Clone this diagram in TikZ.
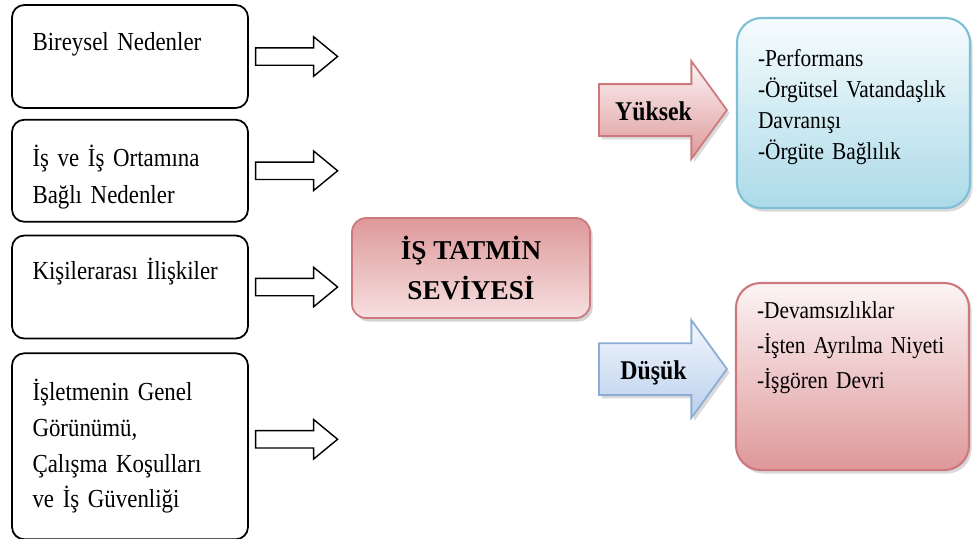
\documentclass[tikz,border=0pt]{standalone}
\usepackage{fontspec}
\setmainfont{Liberation Serif}[FakeStretch=0.88, WordSpace=0.8]
\newfontfamily\duzfont{Liberation Serif}
\usetikzlibrary{positioning,shapes.arrows,shadows}

\definecolor{pembeKenar}{RGB}{205,120,125}
\definecolor{pembeKoyu}{RGB}{222,152,154}
\definecolor{pembeAcik}{RGB}{246,224,224}
\definecolor{pembeBeyaz}{RGB}{252,244,244}
\definecolor{maviKenar}{RGB}{125,192,214}
\definecolor{maviKoyu}{RGB}{172,218,232}
\definecolor{maviBeyaz}{RGB}{246,252,254}
\definecolor{okMaviKenar}{RGB}{140,172,214}
\definecolor{okMaviKoyu}{RGB}{186,208,236}
\definecolor{okMaviAcik}{RGB}{242,247,253}

\begin{document}
\begin{tikzpicture}[
        font=\fontsize{14.8}{21.5}\selectfont,
        node distance=2mm,
        neden/.style={draw=black, rounded corners=7pt, line width=1pt, align=left, text width=3.9cm, inner xsep=0.41cm, minimum height=#1},
        bosok/.style={single arrow, draw=black, line width=0.8pt, minimum height=1.64cm, inner xsep=0pt, inner ysep=0.16cm, single arrow head extend=0.22cm, single arrow tip angle=79},
        tatmin/.style={draw=pembeKenar, rounded corners=8pt, line width=1pt, top color=pembeKoyu, bottom color=pembeAcik, align=center, minimum width=4.76cm, minimum height=2.0cm, font=\duzfont\bfseries\fontsize{15.5}{22.7}\selectfont, drop shadow={shadow xshift=1.5pt, shadow yshift=-2pt, opacity=0.35}},
        seviyeok/.style={single arrow, line width=1pt, minimum height=2.56cm, inner xsep=0.1cm, inner ysep=0pt, text height=0.7cm, text depth=0.3cm, single arrow head extend=0.46cm, single arrow tip angle=108, font=\bfseries\fontsize{15.4}{18}\selectfont, drop shadow={shadow xshift=1.5pt, shadow yshift=-2pt, opacity=0.3}},
        sonuc/.style={rounded corners=14pt, line width=1.2pt, align=left, text width=3.82cm, inner xsep=0.42cm, minimum height=#1, drop shadow={shadow xshift=1.5pt, shadow yshift=-2pt, opacity=0.3}}
    ]
        \useasboundingbox (0,0) rectangle (19.46,-10.76);

        % sol taraf: nedenler
        \node[neden=2.06cm] (b1) at (2.60,-1.13) {Bireysel Nedenler\rule[-0.61cm]{0pt}{0.61cm}};
        \node[neden=2.04cm, below=of b1] (b2) {\rule{0pt}{0.68cm}İş ve İş Ortamına\\Bağlı Nedenler};
        \node[neden=2.06cm, below=2.4mm of b2] (b3) {Kişilerarası İlişkiler\rule[-0.73cm]{0pt}{0.73cm}};
        \node[neden=3.72cm, below=2.6mm of b3, font=\fontsize{14.8}{20.3}\selectfont] (b4) {İşletmenin Genel\\Görünümü,\\Çalışma Koşulları\\ve İş Güvenliği};

        \node[bosok, right=1.2mm of b1] (o1) {};
        \node[bosok, right=1.2mm of b2] (o2) {};
        \node[bosok, right=1.2mm of b3] (o3) {};
        \node[bosok, right=1.2mm of b4, yshift=0.14cm] (o4) {};

        % orta
        \node[tatmin] (tatmin) at (9.42,-5.36) {İŞ TATMİN\\SEVİYESİ};

        % sag taraf: sonuclar
        \node[seviyeok, draw=pembeKenar, top color=pembeBeyaz, bottom color=pembeKoyu, anchor=tail] (yuksek) at (11.96,-2.20) {Yüksek};
        \node[seviyeok, draw=okMaviKenar, top color=okMaviAcik, bottom color=okMaviKoyu, anchor=tail] (dusuk) at (11.96,-7.38) {Düşük};

        \node[sonuc=3.8cm, draw=maviKenar, top color=maviBeyaz, bottom color=maviKoyu, font=\fontsize{13.8}{17.6}\selectfont] (iyi) at (17.07,-2.26) {-Performans\\-Örgütsel Vatandaşlık\\Davranışı\\-Örgüte Bağlılık\rule[-0.34cm]{0pt}{0.34cm}};
        \node[sonuc=3.74cm, draw=pembeKenar, top color=pembeBeyaz, bottom color=pembeKoyu, font=\fontsize{13.8}{19.8}\selectfont] (kotu) at (17.05,-7.53) {-Devamsızlıklar\\-İşten Ayrılma Niyeti\\-İşgören Devri\rule[-1.25cm]{0pt}{1.25cm}};
    \end{tikzpicture}
\end{document}
